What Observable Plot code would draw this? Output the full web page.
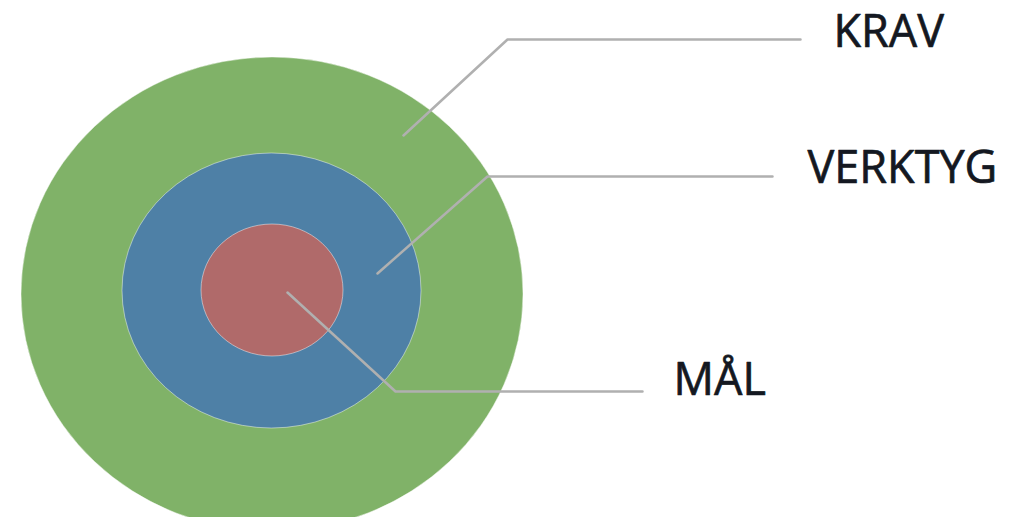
<!DOCTYPE html>
<html>
<head>
<meta charset="utf-8">
<script src="https://cdn.jsdelivr.net/npm/d3@7"></script>
<script src="https://cdn.jsdelivr.net/npm/@observablehq/plot@0.6"></script>
<style>
  html, body { margin: 0; padding: 0; background: #ffffff; }
  #chart { width: 1028px; height: 517px; overflow: hidden; }
</style>
</head>
<body>
<div id="chart"></div>
<script>
// Concentric rings (outer to inner), extents in chart units
const rings   = ["KRAV", "VERKTYG", "MÅL"];
const ringX1  = [21, 122, 201];
const ringX2  = [523, 421, 343];
const ringY1  = [57, 153, 224];
const ringY2  = [531, 428, 356];
const ringColors = ["#80b268", "#4e80a6", "#b06a6a"];

// Leader lines: inner point -> elbow -> end of horizontal
const leadInnerX = [403, 377, 287];
const leadInnerY = [135, 273, 292];
const leadElbowX = [507, 487, 395];
const leadElbowY = [39, 176, 391];
const leadEndX   = [800, 772, 642];

// Label positions
const labelX = [833, 807, 673];
const labelY = [32, 168, 380];

const ringData = rings.map((name, i) => ({
  name, x1: ringX1[i], x2: ringX2[i], y1: ringY1[i], y2: ringY2[i], color: ringColors[i]
}));

const leaderData = rings.flatMap((name, i) => [
  {name, x: leadInnerX[i], y: leadInnerY[i]},
  {name, x: leadElbowX[i], y: leadElbowY[i]},
  {name, x: leadEndX[i], y: leadElbowY[i]}
]);

const labelData = rings.map((name, i) => ({name, x: labelX[i], y: labelY[i]}));

const chart = Plot.plot({
  width: 1028,
  height: 517,
  marginTop: 0, marginRight: 0, marginBottom: 0, marginLeft: 0,
  x: {domain: [0, 1028], range: [0, 1028], axis: null},
  y: {domain: [0, 517], range: [0, 517], axis: null},
  style: {background: "#ffffff", fontFamily: "'Open Sans', sans-serif", overflow: "hidden"},
  marks: [
    Plot.rect(ringData, {
      x1: "x1", x2: "x2", y1: "y1", y2: "y2",
      fill: "color",
      stroke: "#ffffff", strokeOpacity: 0.45, strokeWidth: 1,
      rx: 1000, ry: 1000
    }),
    Plot.line(leaderData, {
      x: "x", y: "y", z: "name",
      stroke: "#b0b0b0", strokeWidth: 2.5, curve: "linear"
    }),
    Plot.text(labelData, {
      x: "x", y: "y", text: "name",
      textAnchor: "start", lineAnchor: "middle",
      fontSize: 45, fill: "#141821",
      stroke: "#141821", strokeWidth: 0.7
    })
  ]
});

document.getElementById("chart").appendChild(chart);
</script>
</body>
</html>
